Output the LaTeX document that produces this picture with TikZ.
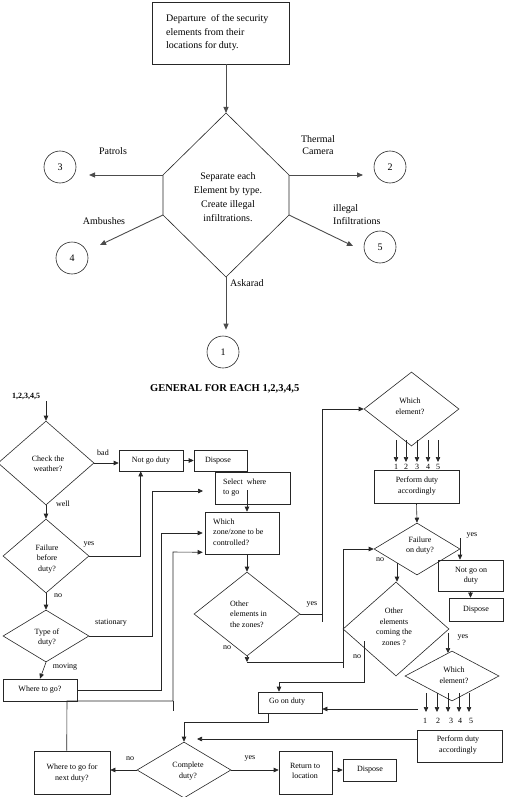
\documentclass[tikz,border=0pt]{standalone}
\usepackage{fontspec}
\setmainfont{Liberation Serif}
\usetikzlibrary{arrows.meta,shapes.geometric,calc}
\begin{document}
\begin{tikzpicture}[x=1pt,y=-1pt,
  ln/.style={draw=black!85, line width=0.6pt},
  arr/.style={ln, -{Triangle[length=5pt,width=4.5pt]}},
  tarr/.style={draw=black!70, line width=0.9pt, -{Triangle[length=6pt,width=5pt]}},
  box/.style={draw=black!85, line width=0.6pt, rectangle, inner sep=0pt},
  dia/.style={draw=black!85, line width=0.6pt, diamond, inner sep=0pt},
  circ/.style={draw=black!85, line width=0.6pt, circle, minimum size=32pt, inner sep=0pt, font=\fontsize{10}{12}\selectfont},
  txt/.style={font=\fontsize{8}{10.5}\selectfont, align=center, inner sep=0pt},
  ttxt/.style={font=\fontsize{10}{13.5}\selectfont, align=center, inner sep=0pt},
  lab/.style={font=\fontsize{8}{10}\selectfont, inner sep=0pt},
  tlab/.style={font=\fontsize{10}{12.5}\selectfont, inner sep=0pt, align=center}]
\useasboundingbox (0,0) rectangle (506,797);

% ---------- upper part ----------
\node[box, minimum width=137pt, minimum height=62pt] (dep) at (220.5,33) {};
\node[ttxt, align=left, anchor=west] (deptext) at (166,33) {Departure\ \ of the security\\elements from their\\locations for duty.};

\coordinate (hT) at (226,113);
\coordinate (hUR) at (289,175);
\coordinate (hLR) at (289,215);
\coordinate (hB) at (226,277);
\coordinate (hLL) at (163,215);
\coordinate (hUL) at (163,175);
\draw[draw=black!85, line width=0.6pt] (hT) -- (hUR) -- (hLR) -- (hB) -- (hLL) -- (hUL) -- cycle;
\node[ttxt, font=\fontsize{10}{14}\selectfont] (septext) at (228,197) {Separate each\\Element by type.\\Create illegal\\infiltrations.};

\node[circ] (c3) at (60,167) {3};
\node[circ] (c2) at (390,167) {2};
\node[circ] (c4) at (72,258) {4};
\node[circ] (c5) at (380,247) {5};
\node[circ] (c1) at (223,352) {1};

\coordinate (a3) at (89,175);
\coordinate (a2) at (363,175);
\coordinate (a4) at (100,245);
\coordinate (a5) at (353,246);

\draw[tarr] (dep.south -| hT) -- (hT);
\draw[tarr] (hUL) -- (a3);
\draw[tarr] (hUR) -- (a2);
\draw[tarr] (hLL) -- (a4);
\draw[tarr] (hLR) -- (a5);
\draw[tarr, shorten >=6pt] (hB) -- (hB |- c1.north);

\node[tlab] (lpat) at (113,151) {Patrols};
\node[tlab] (lther) at (318,145) {Thermal\\Camera};
\node[tlab] (lamb) at (104,221) {Ambushes};
\node[tlab, align=left, anchor=west] (lill) at (333,214.5) {illegal\\Infiltrations};
\node[tlab, anchor=west] (lask) at (230,283) {Askarad};

% ---------- lower part ----------
\node[font=\bfseries\fontsize{10.5}{12}\selectfont, inner sep=0pt, anchor=west] (title) at (150,389) {GENERAL FOR EACH 1,2,3,4,5};
\node[font=\bfseries\fontsize{8}{10}\selectfont, inner sep=0pt, anchor=west] (start) at (12,396) {1,2,3,4,5};
\coordinate (s0) at (46,401);

\node[dia, minimum width=96pt, minimum height=84pt] (cw) at (46,463) {};
\node[txt] at (48,464) {Check the\\weather?};
\node[box, minimum width=64pt, minimum height=21pt] (ng) at (151,460.5) {};
\node[txt] at (151,460.5) {Not go duty};
\node[box, minimum width=53pt, minimum height=21pt] (dsp1) at (220.5,460.5) {};
\node[txt] at (218,460.5) {Dispose};
\node[box, minimum width=75pt, minimum height=32pt] (sel) at (252.5,488) {};
\node[txt, align=left, anchor=west] at (223,487.5) {Select\ \ where\\to go};
\node[box, minimum width=74pt, minimum height=42pt] (zone) at (242,533) {};
\node[txt, align=left, anchor=west] at (213,532) {Which\\zone/zone to be\\controlled?};
\node[dia, minimum width=106pt, minimum height=84pt] (oz) at (247,614) {};
\node[txt, align=left, anchor=west] at (230,614) {Other\\elements in\\the zones?};

\node[dia, minimum width=86pt, minimum height=74pt] (fb) at (46,556) {};
\node[txt] at (47,559) {Failure\\before\\duty?};
\node[dia, minimum width=86pt, minimum height=52pt] (td) at (46,636) {};
\node[txt] at (47,637.5) {Type of\\duty?};
\node[box, minimum width=74pt, minimum height=22pt] (wtg) at (40,690) {};
\node[txt] at (40,690) {Where to go?};
\node[box, minimum width=76pt, minimum height=43pt] (nd) at (72,772.5) {};
\node[txt] at (72,773) {Where to go for\\next duty?};
\node[dia, minimum width=94pt, minimum height=56pt] (cd) at (184,770) {};
\node[txt] at (188,771) {Complete\\duty?};
\node[box, minimum width=53pt, minimum height=43pt] (ret) at (305.5,772.5) {};
\node[txt] at (305,771) {Return to\\location};
\node[box, minimum width=53pt, minimum height=22pt] (dsp3) at (369.5,770) {};
\node[txt] at (370,769.5) {Dispose};
\node[box, minimum width=64pt, minimum height=21pt] (god) at (290,702.5) {};
\node[txt] at (287,702) {Go on duty};

\node[dia, minimum width=95pt, minimum height=74pt] (we1) at (411.5,409) {};
\node[txt] at (410,406.5) {Which\\element?};
\node[box, minimum width=85pt, minimum height=33pt] (pd1) at (416.5,486.5) {};
\node[txt] at (417,486) {Perform duty\\accordingly};
\node[dia, minimum width=86pt, minimum height=52pt] (fod) at (417,549) {};
\node[txt] at (420,545.5) {Failure\\on duty?};
\node[box, minimum width=65pt, minimum height=31pt] (ngd) at (470.5,575.5) {};
\node[txt] at (471,575.5) {Not go on\\duty};
\node[box, minimum width=54pt, minimum height=23pt] (dsp2) at (476,609.5) {};
\node[txt] at (476,610) {Dispose};
\node[dia, minimum width=106pt, minimum height=94pt] (oc) at (396,629) {};
\node[txt] at (394,627) {Other\\elements\\coming the\\zones ?};
\node[dia, minimum width=94pt, minimum height=50pt] (we2) at (452,676) {};
\node[txt] at (454,675.5) {Which\\element?};
\node[box, minimum width=85pt, minimum height=32pt] (pd2) at (459.5,746) {};
\node[txt] at (458,745) {Perform duty\\accordingly};

% labels on connectors
\node[lab] at (103,453) {bad};
\node[lab] at (63,504) {well};
\node[lab] at (89,544) {yes};
\node[lab] at (58,596) {no};
\node[lab] at (111,623) {stationary};
\node[lab] at (65,667) {moving};
\node[lab] at (312,604) {yes};
\node[lab] at (227,648) {no};
\node[lab] at (472,535) {yes};
\node[lab] at (380,560) {no};
\node[lab] at (463,637) {yes};
\node[lab] at (357,657) {no};
\node[lab] at (250,758) {yes};
\node[lab] at (130,759) {no};

% connectors
\draw[arr] (s0) -- (cw.north);
\draw[arr] (cw.east) -- (cw.east -| ng.west);
\draw[arr] (ng) -- (dsp1);
\draw[arr] (cw.south) -- (fb.north);
\draw[arr] (fb.east) -| ($(ng.south west)+(22,0)$);
\draw[arr] (fb.south) -- (td.north);
\coordinate (stA) at (152,636);
\coordinate (stB) at (152,491);
\coordinate (stC) at (203,491);
\draw[arr] (td.east) -- (stA) -- (stB) -- (stC);
\draw[arr] (td.south) -- (wtg.north);
\draw[arr] (wtg.east) -| ($(zone.west)+(-43,0)$) -- ($(zone.west)+(-2,0)$);
\coordinate (ndA) at ($(nd.north west)+(33,0)$);
\coordinate (ndB) at (67,701);
\coordinate (ndC) at (173,701);
\coordinate (ndD) at (173,552);
\draw[arr] (ndA) -- (ndB) -- (ndC) -- (ndD) -- ($(zone.south west)+(-2,-2)$);
\draw[ln] (ndC) -- ++(0,10);
\coordinate (selA) at (247,490);
\draw[arr] (selA) -- (selA |- zone.north);
\draw[arr] (zone.south -| oz.north) -- (oz.north);
% yes of oz
\coordinate (ozA) at (322,614);
\coordinate (ozB) at (322,409);
\draw[arr] (oz.east) -- (ozA) -- (ozB) -- (we1.west);
\draw[ln] (ozA) -- ++(0,8);
% no of oz
\coordinate (ozb) at (247,662);
\coordinate (ozC) at (343,662);
\coordinate (ozD) at (343,549);
\draw[arr] (oz.south) -- (ozb);
\draw[ln] (ozb) -- (ozC);
\draw[arr] ($(ozC)+(0,6)$) -- (ozD) -- (fod.west);
% which element 1 arrows
\foreach \x/\n in {396/1,406/2,417/3,428/4,438/5}{
  \draw[arr] (\x,440) -- (\x,462);
  \node[lab] at (\x,466.5) {\n};
}
\draw[arr] (pd1.south) -- (fod.north);
\coordinate (fodY) at (460,538);
\draw[arr] (fodY) -- (fodY |- ngd.north);
\draw[arr] (ngd.south) -- (ngd.south |- dsp2.north);
\coordinate (fodN) at (397,563);
\draw[arr] (fodN) -- (fodN |- oc.north);
\coordinate (ocY) at (448,633);
\draw[arr] (ocY) -- (448,653);
\coordinate (ocN) at (364,641);
\coordinate (ocN2) at (364,682);
\draw[arr] (ocN) -- (ocN2) -- (279,682) -- (god.north -| 279,0);
% which element 2 arrows
\foreach \x/\lx/\n in {426/425/1,437/438/2,448/451/3,459/460/4,469/471/5}{
  \draw[arr] (\x,693) -- (\x,712);
  \node[lab] at (\lx,721) {\n};
}
\coordinate (weL) at (418,709);
\draw[arr] (weL) -- (weL -| god.east);
\coordinate (pdL) at (417,739);
\coordinate (pdE) at (197,739);
\draw[arr] (pdL) -- (pdE);
\coordinate (godA) at (268,713);
\draw[arr] (godA) -- (268,722) -- (184,722) -- (cd.north);
\draw[arr] (cd.east) -- (cd.east -| ret.west);
\draw[arr] (ret.east |- dsp3.west) -- (dsp3.west);
\draw[arr] (cd.west) -- (cd.west -| nd.east);
\end{tikzpicture}
\end{document}
